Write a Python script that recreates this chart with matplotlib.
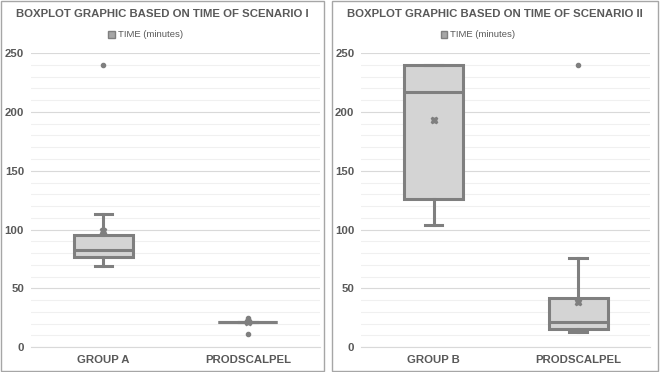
import matplotlib.pyplot as plt
from matplotlib.patches import Rectangle

# scenario I
labels_1 = ['GROUP A', 'PRODSCALPEL']
whislo_1 = [69, 21]
q1_1 = [77, 21]
med_1 = [83, 21]
q3_1 = [95, 21]
whishi_1 = [113, 21]
mean_1 = [99, 21]
fliers_1 = [[240], [25, 11]]

# scenario II
labels_2 = ['GROUP B', 'PRODSCALPEL']
whislo_2 = [104, 13]
q1_2 = [126, 15.5]
med_2 = [217, 21.5]
q3_2 = [240, 41.5]
whishi_2 = [240, 76]
mean_2 = [193, 38.5]
fliers_2 = [[], [240]]

titles = ['BOXPLOT GRAPHIC BASED ON TIME OF SCENARIO I',
          'BOXPLOT GRAPHIC BASED ON TIME OF SCENARIO II']

EDGE = '#7f7f7f'
FILL = '#d4d4d4'
TXT = '#595959'


def make_stats(labels, whislo, q1, med, q3, whishi, mean, fliers):
    out = []
    for i in range(len(labels)):
        out.append(dict(label=labels[i], whislo=whislo[i], q1=q1[i], med=med[i],
                        q3=q3[i], whishi=whishi[i], mean=mean[i], fliers=fliers[i]))
    return out


fig = plt.figure(figsize=(6.6, 3.72), dpi=100)

panels = [
    (make_stats(labels_1, whislo_1, q1_1, med_1, q3_1, whishi_1, mean_1, fliers_1), 0.0, 0.4925),
    (make_stats(labels_2, whislo_2, q1_2, med_2, q3_2, whishi_2, mean_2, fliers_2), 0.5015, 0.4970),
]

for k, (stats, x0, w) in enumerate(panels):
    # panel border
    fig.add_artist(Rectangle((x0 + 0.001, 0.002), w - 0.002, 0.995, transform=fig.transFigure,
                             fill=False, edgecolor='#a6a6a6', linewidth=1.0))
    ax = fig.add_axes([x0 + 0.047 + (0.0 if k == 0 else -0.001), 0.067, 0.438, 0.79])
    ax.bxp(stats, positions=[1, 2], widths=0.41, patch_artist=True, showmeans=True,
           boxprops=dict(facecolor=FILL, edgecolor=EDGE, linewidth=2.2),
           medianprops=dict(color=EDGE, linewidth=2.2),
           whiskerprops=dict(color=EDGE, linewidth=2.2),
           capprops=dict(color=EDGE, linewidth=2.2),
           capwidths=0.12,
           meanprops=dict(marker='X', markerfacecolor=EDGE, markeredgecolor=EDGE, markersize=5),
           flierprops=dict(marker='o', markerfacecolor=EDGE, markeredgecolor=EDGE, markersize=3))
    ax.set_xlim(0.5, 2.5)
    ax.set_ylim(0, 250)
    ax.set_yticks(range(0, 251, 50))
    ax.set_yticks(range(0, 251, 10), minor=True)
    ax.grid(axis='y', which='major', color='#d9d9d9', linewidth=0.8)
    ax.grid(axis='y', which='minor', color='#f0f0f0', linewidth=0.8)
    ax.set_axisbelow(True)
    for s in ['top', 'right', 'left']:
        ax.spines[s].set_visible(False)
    ax.spines['bottom'].set_color('#d9d9d9')
    ax.tick_params(axis='both', which='both', length=0, colors=TXT)
    ax.tick_params(axis='x', pad=6)
    ax.tick_params(axis='y', pad=5)
    for lab in ax.get_xticklabels() + ax.get_yticklabels():
        lab.set_fontsize(8.2)
        lab.set_fontweight('bold')
        lab.set_fontfamily('Liberation Sans')
    # title and legend
    cx = x0 + w / 2
    fig.text(cx, 0.962, titles[k], ha='center', va='center', fontsize=8.2, fontweight='bold',
             color=TXT, family='Liberation Sans')
    fig.add_artist(Rectangle((cx - 0.082, 0.899), 0.0095, 0.017, transform=fig.transFigure,
                             facecolor='#a6a6a6', edgecolor=EDGE, linewidth=1.0))
    fig.text(cx - 0.068, 0.907, 'TIME (minutes)', ha='left', va='center', fontsize=6.8,
             color=TXT, family='Liberation Sans')

fig.savefig('out.png', dpi=100)
